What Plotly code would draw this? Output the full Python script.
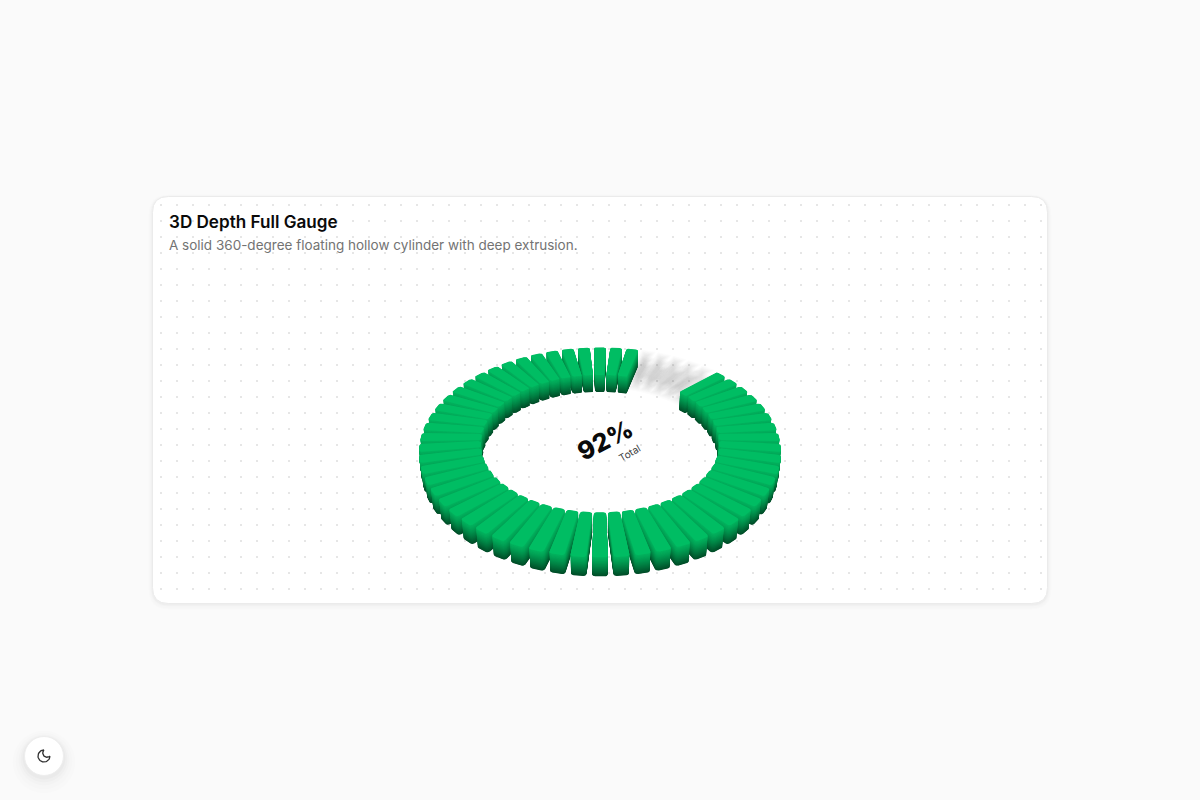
import numpy as np
import plotly.graph_objects as go

# ---- data -------------------------------------------------------------
gauge_value = [92]
gauge_total = [100]
segment_count = [60]
value_label = ["92%"]
caption_label = ["Total"]
title_text = ["3D Depth Full Gauge"]
subtitle_text = ["A solid 360-degree floating hollow cylinder with deep extrusion."]

# ---- styling / geometry -----------------------------------------------
CX, CY = 600.0, 437.0
R_IN, R_OUT = 118.5, 179.0
HW_IN, HW_OUT = 5.55, 6.8
CORNER = 2.6
DEPTH = 22.0
STEP_Z = 0.5
TILT = np.radians(55)
PERSP = 1000.0
START_DEG = 48.0
TOP_RGB = np.array([0, 189, 99])
WALL_RGB = np.array([3, 178, 94])
BOT_RGB = np.array([0, 76, 40])


def project(X, Y, Z):
    a, b = np.cos(TILT), np.sin(TILT)
    zp = -Y * b + Z * a
    s = PERSP / (PERSP - zp)
    return CX + X * s, CY - (Y * a + Z * b) * s


def rounded_bar(r0, r1, hw0, hw1, c):
    cs = [(r1 - c, hw1 - c, 0), (r0 + c, hw0 - c, 90), (r0 + c, -hw0 + c, 180), (r1 - c, -hw1 + c, 270)]
    rr, uu = [], []
    for (cr, cu, a0) in cs:
        t = np.radians(np.linspace(a0, a0 + 90, 5))
        rr.extend(cr + c * np.cos(t))
        uu.extend(cu + c * np.sin(t))
    rr.append(rr[0])
    uu.append(uu[0])
    return np.array(rr), np.array(uu)


def bars_xy(angles, r0, r1, hw0, hw1, c, z):
    xs, ys = [], []
    rr, uu = rounded_bar(r0, r1, hw0, hw1, c)
    for deg in angles:
        th = np.radians(deg)
        X = rr * np.sin(th) + uu * np.cos(th)
        Y = rr * np.cos(th) - uu * np.sin(th)
        px, py = project(X, Y, np.full_like(X, z))
        xs.extend(px.tolist() + [None])
        ys.extend(py.tolist() + [None])
    return xs, ys


n = segment_count[0]
n_on = int(n * gauge_value[0] / gauge_total[0])
step = 360.0 / n
on_angles = [START_DEG + i * step for i in range(n_on)]
off_angles = [START_DEG + i * step for i in range(n_on, n)]

fig = go.Figure()

# dotted card background
dot_x = np.arange(161, 1047, 16)
dot_y = np.arange(205, 603, 16)
gx, gy = np.meshgrid(dot_x, dot_y)
fig.add_trace(go.Scatter(x=gx.ravel(), y=gy.ravel(), mode="markers",
                         marker=dict(size=2, symbol="square", color="#e6e6e6", line=dict(width=0)),
                         hoverinfo="skip", showlegend=False))

# ghost (unfilled) segments: soft blurred streaks
for grow, alpha in [(8.5, 0.016), (7.0, 0.02), (5.5, 0.025), (4.0, 0.028), (2.5, 0.03), (1.0, 0.03), (-0.5, 0.03), (-2.0, 0.03)]:
    for z in (-16.0, -8.0, 0.0):
        xs, ys = bars_xy(off_angles, R_IN + 7 - grow, R_OUT - 7 + grow,
                         max(3.2 + grow * 0.6, 0.8), max(3.2 + grow * 0.6, 0.8), 0.8, z)
        fig.add_trace(go.Scatter(x=xs, y=ys, mode="lines", fill="toself",
                                 line=dict(width=0, color="rgba(0,0,0,0)"),
                                 fillcolor=f"rgba(110,110,110,{alpha * 0.75:.3f})",
                                 hoverinfo="skip", showlegend=False))

# filled segments, one stacked layer per depth step
for z in np.arange(-DEPTH, 0.001, STEP_Z):
    if z > -0.25:
        col = TOP_RGB
    else:
        t = (-z / DEPTH) ** 1.2
        col = WALL_RGB + (BOT_RGB - WALL_RGB) * t
    c = f"rgb({col[0]:.0f},{col[1]:.0f},{col[2]:.0f})"
    xs, ys = bars_xy(on_angles, R_IN, R_OUT, HW_IN, HW_OUT, CORNER, float(z))
    fig.add_trace(go.Scatter(x=xs, y=ys, mode="lines", fill="toself",
                             line=dict(width=0, color=c), fillcolor=c,
                             hoverinfo="skip", showlegend=False))


def rrect(x0, y0, x1, y1, r):
    return (f"M{x0+r},{y0} L{x1-r},{y0} Q{x1},{y0} {x1},{y0+r} L{x1},{y1-r} Q{x1},{y1} {x1-r},{y1} "
            f"L{x0+r},{y1} Q{x0},{y1} {x0},{y1-r} L{x0},{y0+r} Q{x0},{y0} {x0+r},{y0} Z")


shapes = []
for e, dy, a in [(4, 2, 0.006), (3, 2, 0.008), (2, 1, 0.012), (1, 1, 0.02)]:
    shapes.append(dict(type="path", path=rrect(152.5 - e, 196.5 - e + dy, 1047.5 + e, 603.5 + e + dy, 16 + e),
                       fillcolor=f"rgba(0,0,0,{a})", line=dict(width=0), layer="below"))
shapes.append(dict(type="path", path=rrect(152.5, 196.5, 1047.5, 603.5, 16), fillcolor="#ffffff",
                   line=dict(color="#ebebeb", width=1), layer="below"))

BX, BY, BR = 44.0, 756.0, 19.5
for e, dy, a in [(12, 6, 0.006), (9, 5, 0.008), (6, 4, 0.012), (4, 3, 0.015), (2, 2, 0.02)]:
    shapes.append(dict(type="circle", x0=BX - BR - e, x1=BX + BR + e, y0=BY - BR - e + dy, y1=BY + BR + e + dy,
                       fillcolor=f"rgba(0,0,0,{a})", line=dict(width=0), layer="below"))
shapes.append(dict(type="circle", x0=BX - BR, x1=BX + BR, y0=BY - BR, y1=BY + BR, fillcolor="#ffffff",
                   line=dict(color="#eeeeee", width=1), layer="below"))

# moon icon (24-unit glyph scaled to 16 px)
icon = 16.0 / 24.0
a_out = np.radians(np.linspace(0, 270, 40))
mx = list(12 + 9 * np.cos(a_out))
my = list(12 + 9 * np.sin(a_out))
a_in = np.radians(np.linspace(225, 45, 30))
mx += list(16.5 + 6.364 * np.cos(a_in))
my += list(7.5 + 6.364 * np.sin(a_in))
mx = BX - 8 + np.array(mx) * icon
my = BY - 8 + np.array(my) * icon
fig.add_trace(go.Scatter(x=mx, y=my, mode="lines", line=dict(color="#2f2f2f", width=1.3),
                         hoverinfo="skip", showlegend=False))

FONT = "Inter"
ann = [
    dict(x=166.5, y=221.5, text=title_text[0], xanchor="left", yanchor="middle",
         font=dict(family=FONT, size=17.1, color="#0a0a0a", weight=600)),
    dict(x=166.5, y=244.5, text=subtitle_text[0], xanchor="left", yanchor="middle",
         font=dict(family=FONT, size=13.5, color="#737373")),
    dict(x=605, y=440, text=value_label[0], textangle=-27, xanchor="center", yanchor="middle",
         font=dict(family=FONT, size=25, color="#0a0a0a", weight=800)),
    dict(x=629, y=453, text=caption_label[0], textangle=-30, xanchor="center", yanchor="middle",
         font=dict(family=FONT, size=10, color="#404040")),
]
for a in ann:
    a.update(xref="x", yref="y", showarrow=False)

fig.update_layout(
    width=1200, height=800, margin=dict(l=0, r=0, t=0, b=0),
    paper_bgcolor="#fafafa", plot_bgcolor="rgba(0,0,0,0)", showlegend=False,
    xaxis=dict(range=[0, 1200], visible=False, fixedrange=True),
    yaxis=dict(range=[800, 0], visible=False, fixedrange=True),
    shapes=shapes, annotations=ann,
)
fig.write_html("out.html", config={"displayModeBar": False},
               post_script="document.body.style.margin='0';document.body.style.overflow='hidden';")
